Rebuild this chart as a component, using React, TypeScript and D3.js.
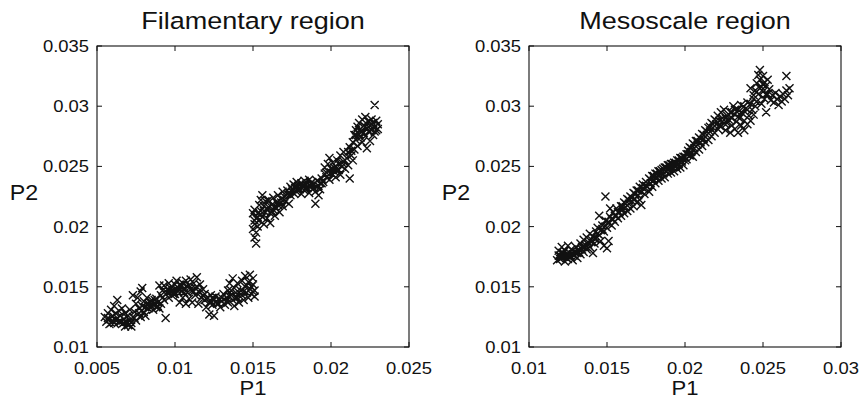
import React from "react";
import * as d3 from "d3";

// ---------- DATA ----------
const filamentaryTitle = "Filamentary region";
const mesoscaleTitle = "Mesoscale region";

const filamentaryXTicks = [0.005, 0.01, 0.015, 0.02, 0.025];
const filamentaryXTickLabels = ["0.005", "0.01", "0.015", "0.02", "0.025"];
const mesoscaleXTicks = [0.01, 0.015, 0.02, 0.025, 0.03];
const mesoscaleXTickLabels = ["0.01", "0.015", "0.02", "0.025", "0.03"];
const yTicks = [0.01, 0.015, 0.02, 0.025, 0.03, 0.035];
const yTickLabels = ["0.01", "0.015", "0.02", "0.025", "0.03", "0.035"];

// Filamentary region: lower branch (P1, P2)
const filamentaryLower: [number, number][] = [
  [0.0055,0.0125],[0.0056,0.0121],[0.0057,0.0128],[0.0058,0.0123],[0.0058,0.0119],[0.0059,0.0131],[0.0060,0.0126],[0.0060,0.0122],[0.0061,0.0134],[0.0061,0.0120],[0.0062,0.0128],[0.0063,0.0124],[0.0063,0.0139],[0.0064,0.0121],[0.0064,0.0130],[0.0065,0.0126],
  [0.0066,0.0119],[0.0066,0.0132],[0.0067,0.0123],[0.0068,0.0117],[0.0068,0.0128],[0.0069,0.0121],[0.0070,0.0118],[0.0070,0.0126],[0.0071,0.0131],[0.0072,0.0120],[0.0072,0.0117],[0.0073,0.0125],[0.0073,0.0143],[0.0074,0.0129],[0.0075,0.0122],[0.0075,0.0136],[0.0076,0.0141],[0.0076,0.0127],[0.0077,0.0132],[0.0078,0.0146],[0.0078,0.0125],
  [0.0079,0.0134],[0.0079,0.0149],[0.0080,0.0129],[0.0080,0.0138],[0.0081,0.0126],[0.0082,0.0135],[0.0082,0.0141],[0.0083,0.0132],[0.0084,0.0137],[0.0085,0.0134],[0.0085,0.0139],[0.0086,0.0131],[0.0087,0.0136],[0.0088,0.0133],[0.0088,0.0140],[0.0089,0.0137],[0.0090,0.0132],[0.0090,0.0151],[0.0091,0.0143],[0.0091,0.0136],[0.0092,0.0147],[0.0093,0.0139],
  [0.0093,0.0151],[0.0094,0.0124],[0.0094,0.0144],[0.0095,0.0148],[0.0096,0.0141],[0.0096,0.0153],[0.0097,0.0146],[0.0098,0.0143],[0.0098,0.0150],[0.0099,0.0147],[0.0100,0.0152],[0.0100,0.0144],[0.0101,0.0155],[0.0102,0.0149],[0.0103,0.0137],[0.0103,0.0152],[0.0104,0.0146],[0.0105,0.0153],[0.0105,0.0141],
  [0.0106,0.0149],[0.0107,0.0155],[0.0107,0.0136],[0.0108,0.0145],[0.0109,0.0151],[0.0109,0.0140],[0.0110,0.0156],[0.0111,0.0147],[0.0111,0.0137],[0.0112,0.0153],[0.0113,0.0143],[0.0113,0.0149],[0.0114,0.0158],[0.0115,0.0136],[0.0115,0.0146],[0.0116,0.0152],[0.0117,0.0141],[0.0118,0.0148],
  [0.0119,0.0139],[0.0119,0.0144],[0.0120,0.0133],[0.0121,0.0141],[0.0122,0.0137],[0.0122,0.0127],[0.0123,0.0143],[0.0124,0.0135],[0.0125,0.0139],[0.0125,0.0126],[0.0126,0.0142],[0.0127,0.0136],[0.0128,0.0140],[0.0129,0.0133],[0.0130,0.0138],[0.0131,0.0144],[0.0132,0.0135],
  [0.0133,0.0141],[0.0134,0.0147],[0.0134,0.0137],[0.0135,0.0153],[0.0136,0.0143],[0.0137,0.0157],[0.0137,0.0139],[0.0138,0.0134],[0.0138,0.0149],[0.0139,0.0145],[0.0140,0.0141],[0.0140,0.0153],[0.0141,0.0137],[0.0142,0.0147],[0.0143,0.0143],[0.0143,0.0155],[0.0144,0.0139],[0.0145,0.0150],[0.0145,0.0159],[0.0146,0.0145],[0.0147,0.0141],[0.0147,0.0154],[0.0148,0.0148],[0.0148,0.0160],[0.0149,0.0144],[0.0150,0.0152],[0.0150,0.0157],[0.0151,0.0147],[0.0151,0.0142],
];
// Filamentary lower branch: dense core
const filamentaryLowerCore: [number, number][] = [
  [0.0057,0.0124],[0.0059,0.0120],[0.0062,0.0122],[0.0065,0.0121],[0.0067,0.0120],[0.0069,0.0125],[0.0071,0.0122],[0.0074,0.0124],[0.0077,0.0128],[0.0081,0.0133],[0.0083,0.0136],[0.0084,0.0133],[0.0086,0.0135],[0.0087,0.0139],[0.0089,0.0134],[0.0092,0.0141],[0.0095,0.0145],[0.0097,0.0149],[0.0099,0.0144],[0.0101,0.0148],[0.0102,0.0146],[0.0104,0.0150],[0.0106,0.0145],[0.0108,0.0150],[0.0110,0.0148],[0.0112,0.0146],[0.0114,0.0150],[0.0116,0.0145],[0.0118,0.0143],[0.0120,0.0140],[0.0123,0.0138],[0.0124,0.0141],[0.0126,0.0137],[0.0128,0.0136],[0.0130,0.0141],[0.0133,0.0138],[0.0135,0.0142],[0.0136,0.0147],[0.0139,0.0141],[0.0141,0.0145],[0.0144,0.0146],[0.0146,0.0151],[0.0149,0.0150],[0.0150,0.0146],
];

// Filamentary region: upper branch (P1, P2)
const filamentaryUpper: [number, number][] = [
  [0.0152,0.0186],[0.0151,0.0191],[0.0152,0.0195],[0.0150,0.0198],[0.0151,0.0202],[0.0152,0.0207],[0.0150,0.0211],[0.0151,0.0214],[0.0153,0.0200],[0.0153,0.0211],[0.0154,0.0218],[0.0154,0.0205],[0.0155,0.0222],[0.0155,0.0213],[0.0156,0.0208],[0.0156,0.0226],[0.0157,0.0217],[0.0157,0.0202],[0.0158,0.0212],[0.0158,0.0221],[0.0159,0.0207],[0.0160,0.0216],
  [0.0160,0.0222],[0.0161,0.0211],[0.0161,0.0203],[0.0162,0.0218],[0.0163,0.0214],[0.0163,0.0224],[0.0164,0.0209],[0.0165,0.0220],[0.0165,0.0215],[0.0166,0.0226],[0.0167,0.0219],[0.0167,0.0212],[0.0168,0.0223],[0.0169,0.0229],[0.0169,0.0217],[0.0170,0.0225],[0.0171,0.0221],[0.0172,0.0230],[0.0172,0.0227],[0.0173,0.0219],[0.0174,0.0233],[0.0174,0.0226],[0.0175,0.0231],
  [0.0176,0.0235],[0.0176,0.0228],[0.0177,0.0232],[0.0178,0.0237],[0.0178,0.0229],[0.0179,0.0234],[0.0180,0.0231],[0.0181,0.0236],[0.0181,0.0227],[0.0182,0.0233],[0.0183,0.0238],[0.0183,0.0230],[0.0184,0.0235],[0.0185,0.0232],[0.0186,0.0239],[0.0186,0.0228],[0.0187,0.0234],[0.0188,0.0237],[0.0188,0.0231],[0.0189,0.0235],[0.0190,0.0229],[0.0190,0.0219],[0.0191,0.0233],[0.0191,0.0238],[0.0192,0.0226],[0.0193,0.0236],[0.0193,0.0231],[0.0194,0.0240],
  [0.0195,0.0237],[0.0196,0.0244],[0.0196,0.0249],[0.0197,0.0241],[0.0198,0.0252],[0.0198,0.0246],[0.0199,0.0257],[0.0199,0.0239],[0.0200,0.0248],[0.0201,0.0243],[0.0201,0.0253],[0.0202,0.0246],[0.0203,0.0250],[0.0203,0.0241],[0.0204,0.0255],[0.0205,0.0247],[0.0205,0.0252],[0.0206,0.0259],[0.0206,0.0243],[0.0207,0.0250],[0.0208,0.0262],[0.0208,0.0254],[0.0209,0.0248],[0.0210,0.0257],
  [0.0211,0.0262],[0.0211,0.0251],[0.0212,0.0240],[0.0212,0.0266],[0.0213,0.0259],[0.0214,0.0270],[0.0214,0.0255],[0.0215,0.0276],[0.0215,0.0264],[0.0216,0.0280],[0.0216,0.0272],[0.0217,0.0283],[0.0217,0.0267],[0.0218,0.0277],[0.0218,0.0286],[0.0219,0.0274],[0.0219,0.0281],[0.0220,0.0289],[0.0220,0.0270],[0.0221,0.0278],[0.0221,0.0284],[0.0222,0.0291],[0.0222,0.0275],[0.0223,0.0265],[0.0223,0.0282],[0.0224,0.0287],[0.0224,0.0279],[0.0225,0.0284],[0.0225,0.0271],[0.0226,0.0289],[0.0226,0.0280],[0.0227,0.0286],[0.0227,0.0276],[0.0228,0.0301],[0.0228,0.0283],[0.0229,0.0288],[0.0229,0.0280],[0.0230,0.0285],
];
// Filamentary upper branch: dense core
const filamentaryUpperCore: [number, number][] = [
  [0.0151,0.0205],[0.0153,0.0208],[0.0155,0.0210],[0.0157,0.0213],[0.0159,0.0215],[0.0162,0.0213],[0.0164,0.0217],[0.0166,0.0218],[0.0168,0.0220],[0.0170,0.0222],[0.0173,0.0228],[0.0175,0.0229],[0.0177,0.0234],[0.0179,0.0231],[0.0182,0.0235],[0.0184,0.0232],[0.0187,0.0236],[0.0189,0.0232],[0.0192,0.0234],[0.0194,0.0236],[0.0197,0.0245],[0.0200,0.0245],[0.0202,0.0249],[0.0204,0.0247],[0.0207,0.0253],[0.0209,0.0255],[0.0213,0.0263],[0.0216,0.0276],[0.0218,0.0280],[0.0220,0.0279],[0.0222,0.0283],[0.0224,0.0283],[0.0226,0.0285],[0.0228,0.0279],[0.0230,0.0281],
];

// Mesoscale region (P1, P2)
const mesoscalePoints: [number, number][] = [
  [0.0118,0.0172],[0.0119,0.0176],[0.0119,0.0180],[0.0120,0.0173],[0.0121,0.0178],[0.0121,0.0183],[0.0122,0.0175],[0.0123,0.0171],[0.0123,0.0180],[0.0124,0.0177],[0.0125,0.0173],[0.0125,0.0184],[0.0126,0.0178],[0.0127,0.0175],[0.0127,0.0181],[0.0128,0.0172],[0.0129,0.0179],[0.0129,0.0176],[0.0130,0.0183],[0.0131,0.0174],[0.0131,0.0178],
  [0.0132,0.0181],[0.0133,0.0177],[0.0133,0.0186],[0.0134,0.0183],[0.0135,0.0179],[0.0135,0.0189],[0.0136,0.0185],[0.0137,0.0181],[0.0137,0.0191],[0.0138,0.0187],[0.0139,0.0183],[0.0139,0.0194],[0.0140,0.0189],[0.0141,0.0178],[0.0141,0.0192],[0.0142,0.0186],[0.0143,0.0196],[0.0143,0.0190],[0.0144,0.0199],[0.0145,0.0193],
  [0.0145,0.0209],[0.0146,0.0197],[0.0146,0.0188],[0.0147,0.0201],[0.0148,0.0184],[0.0148,0.0196],[0.0149,0.0225],[0.0149,0.0205],[0.0150,0.0199],[0.0150,0.0182],[0.0151,0.0203],[0.0151,0.0188],[0.0152,0.0208],[0.0152,0.0215],[0.0153,0.0201],[0.0154,0.0206],[0.0154,0.0212],[0.0155,0.0204],[0.0156,0.0209],[0.0156,0.0215],[0.0157,0.0207],[0.0158,0.0212],
  [0.0159,0.0217],[0.0159,0.0209],[0.0160,0.0214],[0.0161,0.0220],[0.0161,0.0211],[0.0162,0.0216],[0.0163,0.0223],[0.0163,0.0213],[0.0164,0.0219],[0.0165,0.0215],[0.0165,0.0225],[0.0166,0.0221],[0.0167,0.0217],[0.0167,0.0228],[0.0168,0.0223],[0.0169,0.0230],[0.0169,0.0220],[0.0170,0.0226],[0.0171,0.0233],[0.0171,0.0222],[0.0172,0.0218],[0.0172,0.0229],
  [0.0173,0.0235],[0.0174,0.0231],[0.0174,0.0227],[0.0175,0.0237],[0.0176,0.0233],[0.0177,0.0240],[0.0177,0.0229],[0.0178,0.0236],[0.0179,0.0242],[0.0179,0.0233],[0.0180,0.0239],[0.0181,0.0244],[0.0181,0.0236],[0.0182,0.0241],[0.0183,0.0246],[0.0183,0.0238],[0.0184,0.0243],[0.0185,0.0240],
  [0.0185,0.0247],[0.0186,0.0244],[0.0187,0.0249],[0.0187,0.0241],[0.0188,0.0246],[0.0189,0.0251],[0.0189,0.0244],[0.0190,0.0248],[0.0191,0.0245],[0.0191,0.0252],[0.0192,0.0249],[0.0193,0.0246],[0.0193,0.0253],[0.0194,0.0250],[0.0195,0.0248],[0.0195,0.0255],[0.0196,0.0252],[0.0197,0.0249],[0.0197,0.0257],[0.0198,0.0254],[0.0199,0.0251],[0.0199,0.0258],[0.0200,0.0255],
  [0.0201,0.0260],[0.0201,0.0256],[0.0202,0.0263],[0.0203,0.0259],[0.0203,0.0266],[0.0204,0.0262],[0.0205,0.0269],[0.0205,0.0258],[0.0206,0.0265],[0.0207,0.0271],[0.0207,0.0262],[0.0208,0.0268],[0.0209,0.0274],[0.0209,0.0264],[0.0210,0.0270],[0.0211,0.0277],[0.0211,0.0267],[0.0212,0.0273],[0.0213,0.0280],[0.0213,0.0270],
  [0.0214,0.0276],[0.0215,0.0282],[0.0215,0.0272],[0.0216,0.0279],[0.0217,0.0286],[0.0217,0.0275],[0.0218,0.0282],[0.0219,0.0289],[0.0219,0.0278],[0.0220,0.0285],[0.0221,0.0292],[0.0221,0.0281],[0.0222,0.0288],[0.0223,0.0295],[0.0223,0.0283],[0.0224,0.0290],[0.0225,0.0286],[0.0225,0.0297],[0.0226,0.0280],[0.0227,0.0292],[0.0227,0.0286],[0.0228,0.0289],
  [0.0229,0.0278],[0.0229,0.0295],[0.0230,0.0284],[0.0230,0.0290],[0.0231,0.0300],[0.0232,0.0281],[0.0232,0.0293],[0.0233,0.0287],[0.0234,0.0278],[0.0234,0.0297],[0.0235,0.0290],[0.0236,0.0284],[0.0236,0.0301],[0.0237,0.0294],[0.0238,0.0280],[0.0238,0.0288],[0.0239,0.0298],[0.0240,0.0285],[0.0240,0.0303],[0.0241,0.0292],[0.0242,0.0288],[0.0242,0.0315],[0.0243,0.0297],[0.0244,0.0306],[0.0244,0.0293],[0.0245,0.0300],
  [0.0245,0.0313],[0.0246,0.0319],[0.0246,0.0304],[0.0247,0.0326],[0.0247,0.0310],[0.0248,0.0322],[0.0248,0.0330],[0.0249,0.0316],[0.0249,0.0302],[0.0250,0.0325],[0.0250,0.0312],[0.0251,0.0320],[0.0251,0.0306],[0.0252,0.0317],[0.0252,0.0295],[0.0253,0.0322],[0.0253,0.0310],[0.0254,0.0314],[0.0255,0.0305],
  [0.0256,0.0309],[0.0257,0.0303],[0.0258,0.0311],[0.0259,0.0306],[0.0260,0.0301],[0.0261,0.0308],[0.0262,0.0304],[0.0263,0.0310],[0.0264,0.0306],[0.0265,0.0325],[0.0265,0.0313],[0.0266,0.0309],[0.0267,0.0315],
];
// Mesoscale: dense core
const mesoscaleCore: [number, number][] = [
  [0.0120,0.0176],[0.0122,0.0178],[0.0124,0.0174],[0.0126,0.0176],[0.0128,0.0177],[0.0130,0.0179],[0.0132,0.0179],[0.0134,0.0181],[0.0136,0.0183],[0.0138,0.0185],[0.0140,0.0187],[0.0142,0.0190],[0.0144,0.0194],[0.0147,0.0198],[0.0149,0.0200],[0.0151,0.0204],[0.0153,0.0206],[0.0155,0.0209],[0.0157,0.0212],[0.0160,0.0217],[0.0162,0.0219],[0.0164,0.0222],[0.0166,0.0224],[0.0168,0.0227],[0.0170,0.0230],[0.0173,0.0232],[0.0175,0.0234],[0.0178,0.0239],[0.0180,0.0242],[0.0182,0.0244],[0.0184,0.0246],[0.0186,0.0248],[0.0188,0.0249],[0.0190,0.0251],[0.0192,0.0252],[0.0194,0.0253],[0.0196,0.0255],[0.0198,0.0257],[0.0200,0.0258],[0.0202,0.0260],[0.0204,0.0265],[0.0206,0.0268],[0.0208,0.0271],[0.0210,0.0273],[0.0212,0.0276],[0.0214,0.0279],[0.0216,0.0283],[0.0218,0.0285],[0.0220,0.0288],[0.0222,0.0284],[0.0224,0.0287],[0.0226,0.0290],[0.0228,0.0293],[0.0230,0.0295],[0.0232,0.0297],[0.0234,0.0291],[0.0236,0.0295],[0.0238,0.0300],[0.0240,0.0297],[0.0242,0.0302],[0.0244,0.0309],[0.0246,0.0312],[0.0248,0.0315],[0.0250,0.0318],[0.0252,0.0310],
];

// ---------- STYLE / LAYOUT ----------
const FONT = "'Liberation Sans', Arial, Helvetica, sans-serif";
const STRETCH = 1.15;
const TOP = 46;
const BOTTOM = 347;
const PLOT_W = 312;
const INK = "#111";

type PanelProps = {
  left: number;
  title: string;
  xDomain: [number, number];
  xTicks: number[];
  xTickLabels: string[];
  points: [number, number][];
};

function Panel({ left, title, xDomain, xTicks, xTickLabels, points }: PanelProps) {
  const x = d3.scaleLinear().domain(xDomain).range([left, left + PLOT_W]);
  const y = d3.scaleLinear().domain([0.01, 0.035]).range([BOTTOM, TOP]);
  const r = 4;
  const tick = 5;
  const cx = left + PLOT_W / 2;
  const path = points
    .map(([a, b]) => {
      const px = x(a);
      const py = y(b);
      return `M${px - r},${py - r}L${px + r},${py + r}M${px - r},${py + r}L${px + r},${py - r}`;
    })
    .join("");
  return (
    <g>
      <text
        transform={`translate(${cx},29) scale(${STRETCH},1)`}
        textAnchor="middle"
        fontFamily={FONT}
        fontSize={23.5}
        fill={INK}
      >
        {title}
      </text>
      <path d={path} stroke={INK} strokeWidth={1.4} fill="none" />
      <rect x={left} y={TOP} width={PLOT_W} height={BOTTOM - TOP} fill="none" stroke={INK} strokeWidth={1.1} />
      {xTicks.map((t, i) => (
        <g key={"x" + i}>
          <line x1={x(t)} x2={x(t)} y1={BOTTOM} y2={BOTTOM - tick} stroke={INK} strokeWidth={1} />
          <line x1={x(t)} x2={x(t)} y1={TOP} y2={TOP + tick} stroke={INK} strokeWidth={1} />
          <text
            transform={`translate(${x(t)},${BOTTOM + 27}) scale(${STRETCH},1)`}
            textAnchor="middle"
            fontFamily={FONT}
            fontSize={16}
            fill={INK}
          >
            {xTickLabels[i]}
          </text>
        </g>
      ))}
      {yTicks.map((t, i) => (
        <g key={"y" + i}>
          <line x1={left} x2={left + tick} y1={y(t)} y2={y(t)} stroke={INK} strokeWidth={1} />
          <line x1={left + PLOT_W} x2={left + PLOT_W - tick} y1={y(t)} y2={y(t)} stroke={INK} strokeWidth={1} />
          <text
            transform={`translate(${left - 8},${y(t) + 6}) scale(${STRETCH},1)`}
            textAnchor="end"
            fontFamily={FONT}
            fontSize={16}
            fill={INK}
          >
            {yTickLabels[i]}
          </text>
        </g>
      ))}
      <text
        transform={`translate(${cx},395) scale(1.05,1)`}
        textAnchor="middle"
        fontFamily={FONT}
        fontSize={21}
        fill={INK}
      >
        P1
      </text>
      <text
        transform={`translate(${left - 73},200) scale(1.08,1)`}
        textAnchor="middle"
        fontFamily={FONT}
        fontSize={21.5}
        fill={INK}
      >
        P2
      </text>
    </g>
  );
}

export default function App() {
  return (
    <svg
      width={859}
      height={409}
      style={{ position: "absolute", left: 0, top: 0, background: "#fff" }}
    >
      <rect width={859} height={409} fill="#fff" />
      <Panel
        left={97}
        title={filamentaryTitle}
        xDomain={[0.005, 0.025]}
        xTicks={filamentaryXTicks}
        xTickLabels={filamentaryXTickLabels}
        points={[...filamentaryLower, ...filamentaryLowerCore, ...filamentaryUpper, ...filamentaryUpperCore]}
      />
      <Panel
        left={529}
        title={mesoscaleTitle}
        xDomain={[0.01, 0.03]}
        xTicks={mesoscaleXTicks}
        xTickLabels={mesoscaleXTickLabels}
        points={[...mesoscalePoints, ...mesoscaleCore]}
      />
    </svg>
  );
}
